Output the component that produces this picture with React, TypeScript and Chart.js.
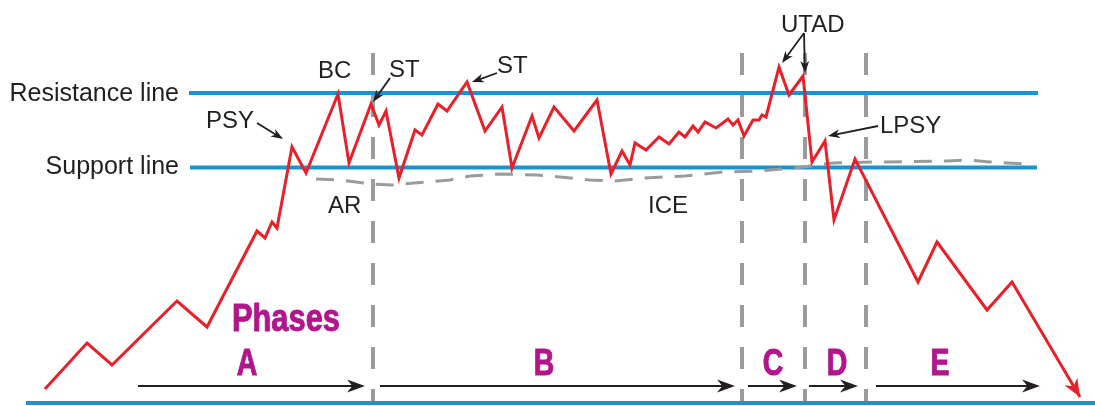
import React, { useEffect, useRef } from "react";
import { Chart, registerables } from "chart.js";

Chart.register(...registerables);

const W = 1095;
const H = 406;

// Price path (time, price)
const priceX = [45, 87, 112, 177, 207, 257, 265, 272, 277, 292, 306, 338, 349, 371, 379, 386, 399, 415, 422, 438, 447, 467, 485, 502, 512, 532, 539, 554, 574, 597, 611, 622, 630, 635, 646, 659, 669, 679, 685, 693, 698, 705, 716, 728, 733, 738, 744, 753, 759, 762, 766, 779, 789, 803, 812, 825, 834, 855, 918, 937, 987, 1012, 1080];
const priceY = [17, 63, 41, 105, 79, 175, 168, 184, 178, 259, 233, 312, 243, 302, 281, 295, 228, 276, 271, 302, 295, 324, 275, 299, 238, 290, 268, 299, 275, 306, 232, 255, 241, 263, 256, 269, 262, 274, 269, 280, 274, 284, 278, 287, 281, 286, 270, 286, 286, 291, 289, 339, 311, 330, 244, 265, 186, 247, 124, 164, 96, 124, 9];

// ICE dashed line
const iceX = [316, 340, 372, 392, 428, 450, 470, 500, 537, 560, 590, 615, 645, 685, 723, 757, 795, 833, 877, 948, 968, 990, 1025];
const iceY = [227, 226, 222, 221, 224, 226, 230, 232, 231, 229, 226, 225, 228, 230, 234, 235, 238, 243, 244, 245, 246, 244, 242];

const resistanceLevel = 313;
const resistanceRange = [189, 1038];
const supportLevel = 238.5;
const supportRange = [190, 1037];
const baseLevel = 3;
const baseRange = [26, 1095];

const phaseBoundaries = [373, 742, 805, 866];
const boundaryTop = 353;
const boundaryBottom = 5;

const phaseLabels = ["A", "B", "C", "D", "E"];
const phaseLabelX = [247, 544, 773, 837, 940];
const phaseLabelLevel = 31;
const phaseArrowStart = [138, 380, 748, 809, 876];
const phaseArrowEnd = [365, 735, 797, 858, 1040];
const phaseArrowLevel = 20;

const eventLabels = ["PSY", "BC", "ST", "ST", "AR", "ICE", "UTAD", "LPSY"];
const eventLabelX = [206, 318, 389, 497, 328, 648, 781, 880];
const eventLabelY = [278, 328, 329, 333, 193, 193, 374, 273];

// pointer arrows: [fromX, fromY, toX, toY]
const pointerArrows = [
  [257, 283, 283, 267],
  [390, 328, 373, 304],
  [497, 333, 472, 324],
  [804, 373, 782, 343],
  [804, 373, 805, 333],
  [878, 280, 828, 270],
];

const RED = "#e8202a";
const BLUE = "#1a93d3";
const GRAY = "#9b9b9d";
const INK = "#231f20";
const MAGENTA = "#b2168b";
const FONT = '"Liberation Sans", Arial, sans-serif';

function drawArrowHead(ctx: CanvasRenderingContext2D, x1: number, y1: number, x2: number, y2: number, len: number, wid: number, color: string) {
  const a = Math.atan2(y2 - y1, x2 - x1);
  const cos = Math.cos(a), sin = Math.sin(a);
  const bx = x2 - len * cos, by = y2 - len * sin;
  const nx = x2 - len * 0.7 * cos, ny = y2 - len * 0.7 * sin;
  ctx.beginPath();
  ctx.moveTo(x2, y2);
  ctx.lineTo(bx - (wid / 2) * sin, by + (wid / 2) * cos);
  ctx.lineTo(nx, ny);
  ctx.lineTo(bx + (wid / 2) * sin, by - (wid / 2) * cos);
  ctx.closePath();
  ctx.fillStyle = color;
  ctx.fill();
}

function drawArrow(ctx: CanvasRenderingContext2D, x1: number, y1: number, x2: number, y2: number, lw: number, len: number, wid: number, color: string) {
  const a = Math.atan2(y2 - y1, x2 - x1);
  ctx.beginPath();
  ctx.moveTo(x1, y1);
  ctx.lineTo(x2 - len * 0.6 * Math.cos(a), y2 - len * 0.6 * Math.sin(a));
  ctx.strokeStyle = color;
  ctx.lineWidth = lw;
  ctx.setLineDash([]);
  ctx.stroke();
  drawArrowHead(ctx, x1, y1, x2, y2, len, wid, color);
}

function boldCondensed(ctx: CanvasRenderingContext2D, text: string, x: number, y: number, sx: number, align: CanvasTextAlign) {
  ctx.save();
  ctx.translate(x, y);
  ctx.scale(sx, 1);
  ctx.textAlign = align;
  ctx.lineJoin = "round";
  ctx.lineWidth = 1.0;
  ctx.strokeStyle = MAGENTA;
  ctx.fillText(text, 0, 0);
  ctx.strokeText(text, 0, 0);
  ctx.restore();
}

const overlay = {
  id: "overlay",
  afterDatasetsDraw(chart: any) {
    const ctx: CanvasRenderingContext2D = chart.ctx;
    const xs = chart.scales.x;
    const ys = chart.scales.y;
    const px = (v: number) => xs.getPixelForValue(v);
    const py = (v: number) => ys.getPixelForValue(v);
    ctx.save();

    // red arrowhead at end of price path
    const n = priceX.length;
    drawArrowHead(ctx, px(priceX[n - 2]), py(priceY[n - 2]), px(priceX[n - 1]), py(priceY[n - 1]), 18, 15, RED);

    // axis labels
    ctx.fillStyle = INK;
    ctx.textBaseline = "alphabetic";
    ctx.font = `25px ${FONT}`;
    ctx.textAlign = "right";
    ctx.fillText("Resistance line", px(179), py(305));
    ctx.fillText("Support line", px(179), py(232));

    // event labels
    ctx.font = `24px ${FONT}`;
    ctx.textAlign = "left";
    eventLabels.forEach((t, i) => ctx.fillText(t, px(eventLabelX[i]), py(eventLabelY[i])));

    // pointer arrows
    pointerArrows.forEach(([a, b, c, d]) => drawArrow(ctx, px(a), py(b), px(c), py(d), 1.8, 12, 9, INK));

    // phases
    ctx.fillStyle = MAGENTA;
    ctx.font = `bold 39px ${FONT}`;
    boldCondensed(ctx, "Phases", px(232), py(75), 0.79, "left");

    ctx.font = `bold 37px ${FONT}`;
    phaseLabels.forEach((t, i) => {
      boldCondensed(ctx, t, px(phaseLabelX[i]), py(phaseLabelLevel), 0.77, "center");
    });

    phaseArrowStart.forEach((s, i) => {
      drawArrow(ctx, px(s), py(phaseArrowLevel), px(phaseArrowEnd[i]), py(phaseArrowLevel), 2, 18, 13, INK);
    });

    ctx.restore();
  },
};

export default function App() {
  const ref = useRef<HTMLCanvasElement | null>(null);
  useEffect(() => {
    if (!ref.current) return;
    const hLine = (level: number, range: number[]) => ({
      data: [{ x: range[0], y: level }, { x: range[1], y: level }],
      showLine: true,
      borderColor: BLUE,
      borderWidth: 4,
      pointRadius: 0,
      order: 4,
    });
    const datasets: any[] = [
      {
        label: "Price",
        data: priceX.map((x, i) => ({ x, y: priceY[i] })),
        showLine: true,
        borderColor: RED,
        borderWidth: 3,
        borderJoinStyle: "miter",
        pointRadius: 0,
        order: 0,
      },
      {
        label: "ICE",
        data: iceX.map((x, i) => ({ x, y: iceY[i] })),
        showLine: true,
        borderColor: GRAY,
        borderWidth: 3,
        borderDash: [18, 12],
        pointRadius: 0,
        order: 2,
      },
      hLine(resistanceLevel, resistanceRange),
      hLine(supportLevel, supportRange),
      hLine(baseLevel, baseRange),
      ...phaseBoundaries.map((b) => ({
        data: [{ x: b, y: boundaryTop }, { x: b, y: boundaryBottom }],
        showLine: true,
        borderColor: GRAY,
        borderWidth: 4,
        borderDash: [22, 20],
        borderCapStyle: "butt",
        pointRadius: 0,
        order: 1,
      })),
    ];
    const chart = new Chart(ref.current, {
      type: "scatter",
      data: { datasets },
      options: {
        animation: false,
        responsive: true,
        maintainAspectRatio: false,
        events: [],
        layout: { padding: 0 },
        plugins: { legend: { display: false }, tooltip: { enabled: false } },
        scales: {
          x: { type: "linear", min: 0, max: W, display: false },
          y: { type: "linear", min: 0, max: H, display: false },
        },
      },
      plugins: [overlay],
    } as any);
    return () => chart.destroy();
  }, []);
  return (
    <div style={{ position: "fixed", left: 0, top: 0, width: W, height: H, background: "#fff" }}>
      <canvas ref={ref} />
    </div>
  );
}
